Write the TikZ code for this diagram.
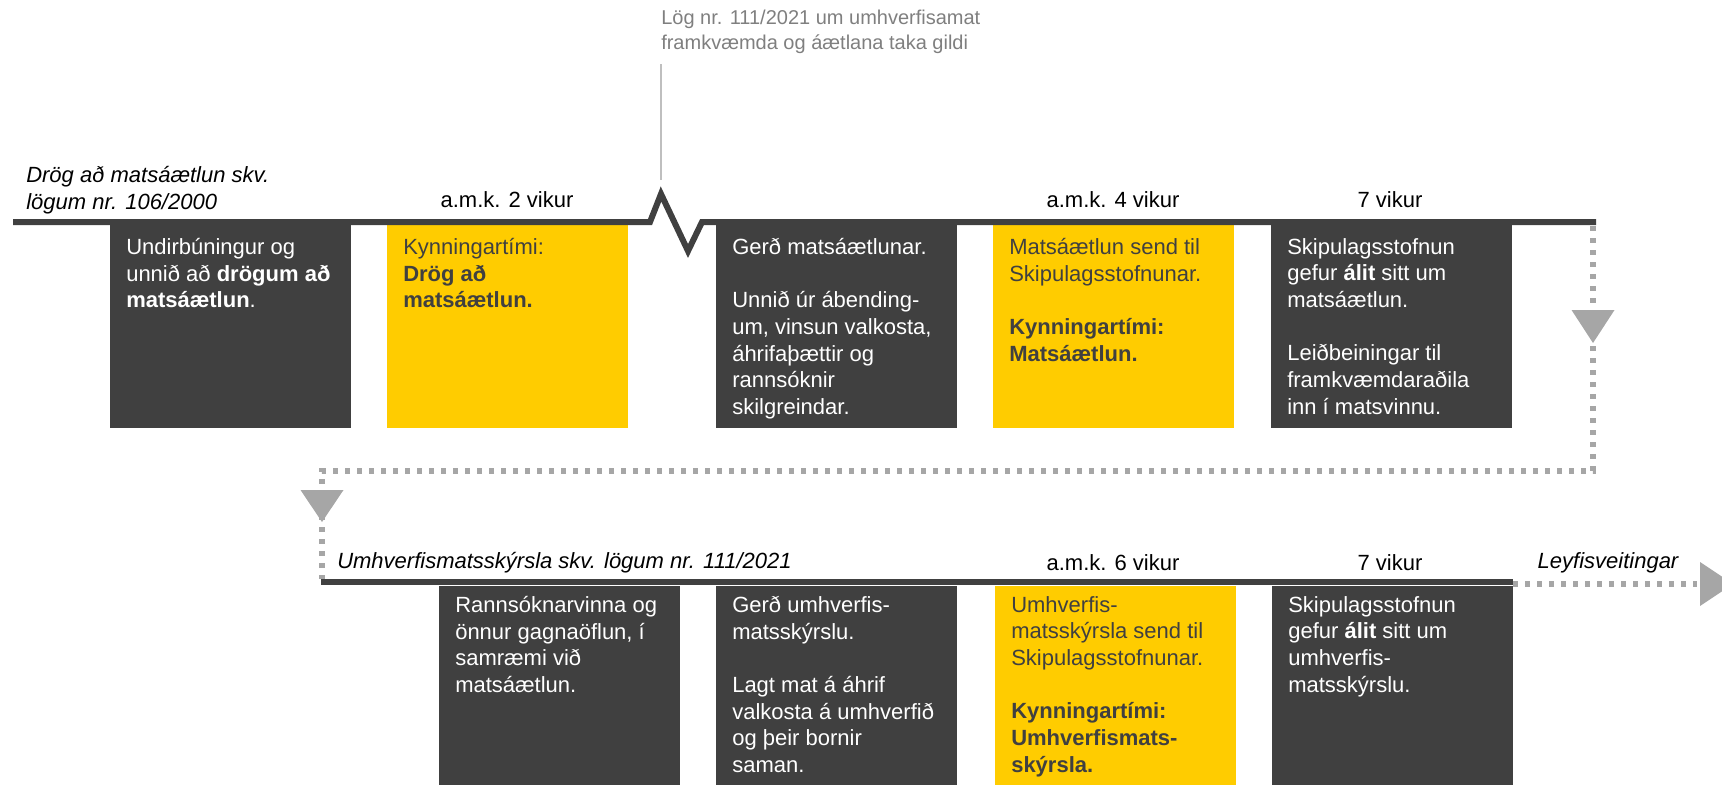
\documentclass[tikz,border=0pt]{standalone}
\usepackage{fontspec}
\setmainfont{Liberation Sans}
\usepackage{tikz}

\definecolor{darkgrey}{HTML}{404040}
\definecolor{sunyellow}{HTML}{FFCC00}
\definecolor{dotgrey}{HTML}{A6A6A6}
\definecolor{notegrey}{HTML}{7F7F7F}
\definecolor{pingrey}{HTML}{BFBFBF}

\begin{document}
\begin{tikzpicture}[x=0.75pt, y=-0.75pt,
	every node/.style={font=\fontsize{16.5}{20}\selectfont, inner sep=0pt},
	ital/.style={font=\fontsize{16.5}{20}\selectfont\itshape},
	ondark/.style={anchor=north west, align=left, text=white},
	onlight/.style={anchor=north west, align=left, text=darkgrey},
	timeline/.style={draw=darkgrey, line width=4.5pt},
	dotline/.style={draw=dotgrey, line width=3.9pt, dash pattern=on 3.9pt off 5.1pt},
	tip/.style={fill=dotgrey}]

\useasboundingbox (0,0) rectangle (1722,785);

% Boxes (top row and bottom row)
\foreach \l/\c in {110/darkgrey, 387/sunyellow, 716/darkgrey, 993/sunyellow, 1271/darkgrey} {
	\fill[\c] (\l,225) rectangle ++(241,203);
}
\foreach \l/\c in {439/darkgrey, 716/darkgrey, 995/sunyellow, 1272/darkgrey} {
	\fill[\c] (\l,586) rectangle ++(241,199);
}

% Timeline coordinates
\coordinate (t1a) at (13,222);
\coordinate (z1) at (650,222);
\coordinate (z2) at (661,194);
\coordinate (z3) at (688,251);
\coordinate (z4) at (702,222);
\coordinate (t1b) at (1596,222);
\coordinate (t2a) at (321,582);
\coordinate (t2b) at (1513,582);
\coordinate (r0) at (1593,226);
\coordinate (r1) at (1593,471);
\coordinate (l1) at (322,471);
\coordinate (l2) at (322,579);
\coordinate (e0) at (1513,584);
\coordinate (e1) at (1697,584);
\coordinate (pin) at (661,180);

% Dotted return path and tips
\draw[dotline] (r0) -- (r1) -- (l1) -- (l2);
\draw[dotline] (e0) -- (e1);
\fill[tip] (1571.5,310) -- (1614.5,310) -- (1593,343) -- cycle;
\fill[tip] (300.5,490) -- (343.5,490) -- (322,522) -- cycle;
\fill[tip] (1700,562) -- (1700,606) -- (1733,584) -- cycle;

% Timelines
\draw[timeline, line join=miter] (t1a) -- (z1) -- (z2) -- (z3) -- (z4) -- (t1b);
\draw[timeline] (t2a) -- (t2b);

% Note on new law
\node[font=\fontsize{15}{18.75}\selectfont, text=notegrey, align=left, anchor=north west] (note) at (661,10)
	{Lög nr. 111/2021 um umhverfisamat\\framkvæmda og áætlana taka gildi};
\draw[pingrey, line width=1.2pt] (note.south west) ++(0,10) -- (pin);

% Row titles and durations
\node[ital, align=left, anchor=west] (drog) at (26,190) {Drög að matsáætlun skv.\\lögum nr. 106/2000};
\node[ital, anchor=west] (umhv) at (337,563) {Umhverfismatsskýrsla skv. lögum nr. 111/2021};
\node[ital] (leyfi) at (1608,563) {Leyfisveitingar};
\node (w1) at (507,200) {a.m.k. 2 vikur};
\node (w2) at (1113,200) {a.m.k. 4 vikur};
\node (w3) at (1390,200) {7 vikur};
\node (w4) at (1113,563) {a.m.k. 6 vikur};
\node (w5) at (1390,563) {7 vikur};

% Top row texts
\node[ondark] (a1) at (126,238) {Undirbúningur og\\unnið að \textbf{drögum að}\\\textbf{matsáætlun}.};
\node[onlight] (a2) at (403,238) {Kynningartími:\\\textbf{Drög að}\\\textbf{matsáætlun.}};
\node[ondark] (a3) at (732,238) {Gerð matsáætlunar.\\[20pt]Unnið úr ábending-\\um, vinsun valkosta,\\áhrifaþættir og\\rannsóknir\\skilgreindar.};
\node[onlight] (a4) at (1009,238) {Matsáætlun send til\\Skipulagsstofnunar.\\[20pt]\textbf{Kynningartími:}\\\textbf{Matsáætlun.}};
\node[ondark] (a5) at (1287,238) {Skipulagsstofnun\\gefur \textbf{álit} sitt um\\matsáætlun.\\[20pt]Leiðbeiningar til\\framkvæmdaraðila\\inn í matsvinnu.};

% Bottom row texts
\node[ondark] (b1) at (455,596) {Rannsóknarvinna og\\önnur gagnaöflun, í\\samræmi við\\matsáætlun.};
\node[ondark] (b2) at (732,596) {Gerð umhverfis-\\matsskýrslu.\\[20pt]Lagt mat á áhrif\\valkosta á umhverfið\\og þeir bornir\\saman.};
\node[onlight] (b3) at (1011,596) {Umhverfis-\\matsskýrsla send til\\Skipulagsstofnunar.\\[20pt]\textbf{Kynningartími:}\\\textbf{Umhverfismats-}\\\textbf{skýrsla.}};
\node[ondark] (b4) at (1288,596) {Skipulagsstofnun\\gefur \textbf{álit} sitt um\\umhverfis-\\matsskýrslu.};

\end{tikzpicture}
\end{document}
